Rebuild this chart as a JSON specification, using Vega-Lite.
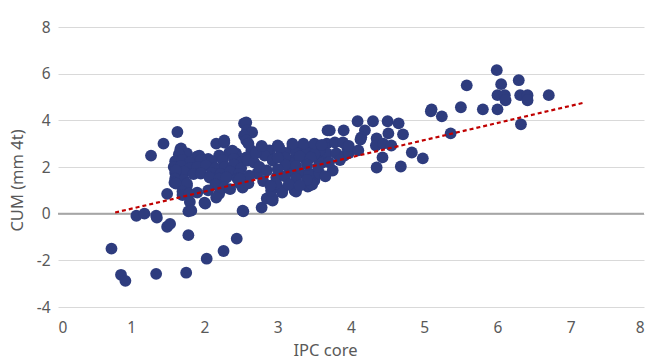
{
  "$schema": "https://vega.github.io/schema/vega-lite/v6.json",
  "autosize": "none",
  "width": 586,
  "height": 280,
  "padding": {"left": 58, "top": 27, "right": 6, "bottom": 53},
  "background": "white",
  "config": {
    "view": {"stroke": null},
    "font": "Noto Sans",
    "axis": {"labelFont": "Noto Sans", "titleFont": "Noto Sans", "labelColor": "#595959", "titleColor": "#595959", "labelFontSize": 15.5, "titleFontSize": 16.5, "titleFontWeight": "normal"}
  },
  "datasets": {
    "pts": [
      {"ipc":0.73,"cum":-1.5},{"ipc":0.86,"cum":-2.62},{"ipc":0.92,"cum":-2.88},{"ipc":1.07,"cum":-0.09},{"ipc":1.18,"cum":0.0},{"ipc":1.34,"cum":-0.09},{"ipc":1.35,"cum":-0.17},{"ipc":1.34,"cum":-2.58},{"ipc":1.27,"cum":2.49},{"ipc":1.44,"cum":3.0},{"ipc":1.63,"cum":3.5},{"ipc":1.49,"cum":0.85},{"ipc":1.49,"cum":-0.56},{"ipc":1.53,"cum":-0.44},{"ipc":1.78,"cum":-0.92},{"ipc":1.75,"cum":-2.53},{"ipc":1.78,"cum":0.1},{"ipc":2.03,"cum":-1.93},{"ipc":2.26,"cum":-1.6},{"ipc":2.44,"cum":-1.07},{"ipc":2.53,"cum":0.1},{"ipc":2.78,"cum":0.26},
      {"ipc":1.68,"cum":2.8},{"ipc":1.67,"cum":2.75},{"ipc":1.76,"cum":2.58},{"ipc":1.93,"cum":2.41},{"ipc":1.93,"cum":2.49},{"ipc":2.16,"cum":3.0},{"ipc":2.27,"cum":3.05},{"ipc":2.27,"cum":3.14},{"ipc":2.34,"cum":2.62},{"ipc":2.43,"cum":2.58},{"ipc":2.43,"cum":2.49},{"ipc":2.54,"cum":3.87},{"ipc":2.57,"cum":3.91},{"ipc":2.58,"cum":3.57},{"ipc":2.65,"cum":3.48},{"ipc":2.54,"cum":3.35},{"ipc":2.57,"cum":3.14},{"ipc":2.64,"cum":2.71},
      {"ipc":1.65,"cum":2.55},{"ipc":1.9,"cum":2.45},{"ipc":2.05,"cum":2.35},{"ipc":2.2,"cum":2.5},{"ipc":2.38,"cum":2.7},
      {"ipc":1.6,"cum":2.25},{"ipc":1.7,"cum":2.3},{"ipc":1.8,"cum":2.2},{"ipc":1.95,"cum":2.3},{"ipc":2.1,"cum":2.25},{"ipc":2.25,"cum":2.3},{"ipc":2.4,"cum":2.35},{"ipc":2.5,"cum":2.2},
      {"ipc":1.58,"cum":2.0},{"ipc":1.68,"cum":2.05},{"ipc":1.8,"cum":1.95},{"ipc":1.9,"cum":2.0},{"ipc":2.02,"cum":2.06},{"ipc":2.15,"cum":1.95},{"ipc":2.28,"cum":2.0},{"ipc":2.4,"cum":2.1},{"ipc":2.5,"cum":1.95},
      {"ipc":1.6,"cum":1.75},{"ipc":1.72,"cum":1.8},{"ipc":1.85,"cum":1.7},{"ipc":1.95,"cum":1.72},{"ipc":2.1,"cum":1.75},{"ipc":2.22,"cum":1.7},{"ipc":2.35,"cum":1.8},{"ipc":2.47,"cum":1.7},{"ipc":1.61,"cum":1.85},
      {"ipc":1.6,"cum":1.5},{"ipc":1.72,"cum":1.45},{"ipc":2.07,"cum":1.55},{"ipc":2.2,"cum":1.5},{"ipc":2.3,"cum":1.55},{"ipc":2.45,"cum":1.5},{"ipc":2.55,"cum":1.45},
      {"ipc":1.59,"cum":1.33},{"ipc":1.61,"cum":1.29},{"ipc":1.76,"cum":1.2},{"ipc":1.76,"cum":1.29},{"ipc":2.15,"cum":1.25},{"ipc":2.27,"cum":1.12},{"ipc":2.48,"cum":1.29},{"ipc":2.52,"cum":1.12},{"ipc":2.6,"cum":1.3},
      {"ipc":1.7,"cum":0.95},{"ipc":1.9,"cum":0.9},{"ipc":2.05,"cum":1.0},{"ipc":2.35,"cum":1.05},
      {"ipc":1.7,"cum":0.8},{"ipc":1.79,"cum":0.86},{"ipc":2.2,"cum":0.85},{"ipc":1.8,"cum":0.5},{"ipc":2.0,"cum":0.47},{"ipc":2.01,"cum":0.43},{"ipc":2.16,"cum":0.69},{"ipc":1.82,"cum":0.13},{"ipc":2.52,"cum":0.13},
      {"ipc":2.6,"cum":3.0},{"ipc":2.57,"cum":2.41},{"ipc":2.59,"cum":2.28},{"ipc":2.68,"cum":2.19},{"ipc":2.72,"cum":1.72},{"ipc":2.61,"cum":1.63},{"ipc":2.48,"cum":1.5},{"ipc":2.85,"cum":0.65},{"ipc":2.93,"cum":0.56},{"ipc":2.93,"cum":0.65},{"ipc":2.91,"cum":0.99},{"ipc":3.0,"cum":1.12},{"ipc":3.06,"cum":0.9},{"ipc":3.06,"cum":0.99},{"ipc":3.23,"cum":0.99},{"ipc":3.25,"cum":0.95},{"ipc":3.41,"cum":1.16},{"ipc":3.43,"cum":1.2},{"ipc":3.5,"cum":1.42},{"ipc":3.47,"cum":1.25},{"ipc":2.98,"cum":1.55},{"ipc":2.98,"cum":1.29},
      {"ipc":3.0,"cum":2.92},{"ipc":2.89,"cum":2.71},{"ipc":2.85,"cum":2.71},{"ipc":2.82,"cum":2.49},{"ipc":2.93,"cum":2.28},{"ipc":3.05,"cum":2.58},{"ipc":3.02,"cum":2.84},{"ipc":3.2,"cum":2.84},{"ipc":3.34,"cum":2.84},{"ipc":3.47,"cum":2.84},{"ipc":3.61,"cum":2.84},{"ipc":3.2,"cum":2.28},{"ipc":3.39,"cum":2.28},{"ipc":3.57,"cum":2.28},{"ipc":3.16,"cum":1.85},{"ipc":3.3,"cum":1.76},{"ipc":3.43,"cum":1.72},{"ipc":3.57,"cum":1.72},{"ipc":3.75,"cum":1.85},
      {"ipc":3.68,"cum":3.57},{"ipc":3.71,"cum":3.57},{"ipc":3.9,"cum":3.57},{"ipc":3.67,"cum":3.0},{"ipc":3.78,"cum":3.05},{"ipc":3.89,"cum":3.05},{"ipc":3.95,"cum":2.84},{"ipc":3.67,"cum":2.58},{"ipc":3.8,"cum":2.58},{"ipc":3.91,"cum":2.49},{"ipc":3.57,"cum":2.71},{"ipc":3.61,"cum":2.19},
      {"ipc":3.1,"cum":2.6},{"ipc":3.25,"cum":2.6},{"ipc":3.4,"cum":2.6},{"ipc":3.5,"cum":2.55},{"ipc":3.3,"cum":2.45},{"ipc":3.45,"cum":2.4},{"ipc":3.1,"cum":2.4},{"ipc":3.1,"cum":2.1},{"ipc":3.25,"cum":2.05},{"ipc":3.4,"cum":2.1},{"ipc":3.55,"cum":2.0},{"ipc":3.7,"cum":2.2},{"ipc":3.85,"cum":2.3},{"ipc":3.97,"cum":2.6},{"ipc":3.97,"cum":2.9},{"ipc":3.0,"cum":1.9},{"ipc":3.1,"cum":1.6},{"ipc":3.25,"cum":1.5},{"ipc":3.4,"cum":1.45},{"ipc":2.8,"cum":1.4},{"ipc":2.9,"cum":1.2},{"ipc":3.15,"cum":1.25},{"ipc":3.3,"cum":1.2},{"ipc":2.75,"cum":2.0},{"ipc":2.85,"cum":1.85},{"ipc":2.7,"cum":2.6},{"ipc":2.78,"cum":2.9},{"ipc":3.0,"cum":2.4},{"ipc":3.65,"cum":1.6},{"ipc":3.35,"cum":3.0},{"ipc":3.5,"cum":3.0},{"ipc":3.6,"cum":2.95},{"ipc":3.2,"cum":3.0},
      {"ipc":4.09,"cum":3.96},{"ipc":4.3,"cum":3.96},{"ipc":4.5,"cum":3.96},{"ipc":4.65,"cum":3.87},{"ipc":4.19,"cum":3.57},{"ipc":4.14,"cum":3.27},{"ipc":4.13,"cum":3.18},{"ipc":4.35,"cum":3.22},{"ipc":4.51,"cum":3.44},{"ipc":4.71,"cum":3.4},{"ipc":4.34,"cum":2.92},{"ipc":4.44,"cum":3.0},{"ipc":4.55,"cum":2.92},{"ipc":4.1,"cum":2.71},{"ipc":4.83,"cum":2.62},{"ipc":4.98,"cum":2.37},{"ipc":4.43,"cum":2.41},{"ipc":4.35,"cum":1.98},{"ipc":4.68,"cum":2.02},
      {"ipc":5.1,"cum":4.47},{"ipc":5.09,"cum":4.39},{"ipc":5.24,"cum":4.17},{"ipc":5.5,"cum":4.56},{"ipc":5.58,"cum":5.5},{"ipc":5.8,"cum":4.47},{"ipc":6.0,"cum":4.47},{"ipc":5.99,"cum":6.15},{"ipc":6.05,"cum":5.55},{"ipc":6.29,"cum":5.72},{"ipc":6.0,"cum":5.08},{"ipc":6.1,"cum":5.08},{"ipc":6.11,"cum":4.86},{"ipc":6.31,"cum":5.08},{"ipc":6.41,"cum":5.08},{"ipc":6.41,"cum":4.86},{"ipc":6.7,"cum":5.08},{"ipc":6.32,"cum":3.83},{"ipc":5.36,"cum":3.44}
    ],
    "trend": [{"ipc":0.78,"cum":0.05},{"ipc":7.2,"cum":4.77}],
    "zero": [{"v":0}]
  },
  "layer": [
    {
      "data": {"name": "zero"},
      "mark": {"type": "rule", "color": "#A6A6A6", "strokeWidth": 2},
      "encoding": {"y": {"field": "v", "type": "quantitative", "scale": {"domain": [-4, 8]}}}
    },
    {
      "data": {"name": "pts"},
      "mark": {"type": "circle", "size": 140, "color": "#2E3C7E", "opacity": 1},
      "encoding": {
        "x": {"field": "ipc", "type": "quantitative", "scale": {"domain": [0, 8], "nice": false},
              "axis": {"title": "IPC core", "values": [0,1,2,3,4,5,6,7,8], "format": "d", "grid": false, "domain": false, "ticks": false, "labelPadding": 13, "titleX": 267, "titleY": 43, "titleBaseline": "middle", "titleAlign": "center"}},
        "y": {"field": "cum", "type": "quantitative", "scale": {"domain": [-4, 8], "nice": false},
              "axis": {"title": "CUM (mm 4t)", "values": [-4,-2,0,2,4,6,8], "labelExpr": "datum.value < 0 ? '-' + abs(datum.value) : '' + datum.value", "grid": true, "gridColor": "#D9D9D9", "gridWidth": 1, "domain": false, "ticks": false, "labelPadding": 8, "titleX": -41, "titleY": 153, "titleBaseline": "middle", "titleAlign": "center", "titleAngle": -90}}
      }
    },
    {
      "data": {"name": "trend"},
      "mark": {"type": "line", "color": "#C00000", "strokeWidth": 2.2, "strokeDash": [4, 3]},
      "encoding": {
        "x": {"field": "ipc", "type": "quantitative"},
        "y": {"field": "cum", "type": "quantitative"}
      }
    }
  ]
}
